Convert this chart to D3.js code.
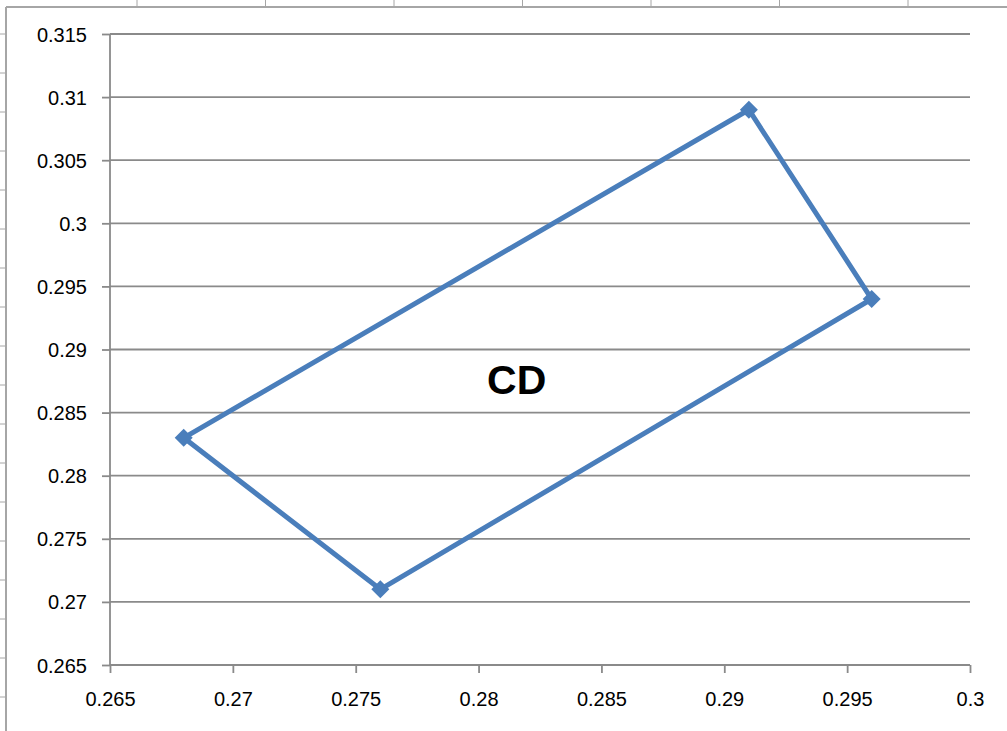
<!DOCTYPE html>
<html>
<head>
<meta charset="utf-8">
<script src="https://cdn.jsdelivr.net/npm/d3@7"></script>
<style>
  body { margin: 0; background: #fff; }
  svg { display: block; }
  .tick text { font-family: "Liberation Sans", Arial, sans-serif; font-size: 20px; fill: #000; }
</style>
</head>
<body>
<div class="chart"></div>
<script>
// data points of the closed shape (x, y)
const xValues = [0.268, 0.291, 0.296, 0.276, 0.268];
const yValues = [0.283, 0.309, 0.294, 0.271, 0.283];

// tick values
const xTicks = [0.265, 0.27, 0.275, 0.28, 0.285, 0.29, 0.295, 0.3];
const yTicks = [0.265, 0.27, 0.275, 0.28, 0.285, 0.29, 0.295, 0.3, 0.305, 0.31, 0.315];

// label inside the shape
const labelText = "CD";
const labelPos = [0.28155, 0.28758];

const W = 1007, H = 731;
const plot = { left: 110, right: 970, top: 34, bottom: 665 };
const blue = "#4a7ebb";
const grid = "#8a8a8a";

const svg = d3.select('.chart')
    .append('svg')
    .attr('width', W)
    .attr('height', H);

svg.append('rect').attr('width', W).attr('height', H).attr('fill', '#fff');

// spreadsheet frame behind the chart
const frame = svg.append('g').attr('stroke', '#a6a6a6');
frame.append('line').attr('x1', 6).attr('x2', W).attr('y1', 7).attr('y2', 7).attr('stroke-width', 2);
frame.append('line').attr('x1', 6).attr('x2', 6).attr('y1', 7).attr('y2', H).attr('stroke-width', 2);
d3.range(137, W, 128.5).forEach(x => {
    frame.append('line').attr('x1', x).attr('x2', x).attr('y1', 0).attr('y2', 7).attr('stroke-width', 1);
});
d3.range(34, H, 39).forEach(y => {
    frame.append('line').attr('x1', 0).attr('x2', 6).attr('y1', y).attr('y2', y).attr('stroke-width', 1);
});

const x = d3.scaleLinear().domain([0.265, 0.3]).range([plot.left, plot.right]);
const y = d3.scaleLinear().domain([0.265, 0.315]).range([plot.bottom, plot.top]);

// horizontal gridlines
svg.append('g')
    .selectAll('line')
    .data(yTicks)
    .join('line')
    .attr('x1', plot.left)
    .attr('x2', plot.right)
    .attr('y1', d => y(d))
    .attr('y2', d => y(d))
    .attr('stroke', grid)
    .attr('stroke-width', 1.8);

// y axis
const yAxis = svg.append('g')
    .attr('transform', `translate(${plot.left},0)`)
    .call(d3.axisLeft(y).tickValues(yTicks).tickSize(8).tickPadding(15).tickFormat(d => String(d)));
yAxis.selectAll('path, line').attr('stroke', grid).attr('stroke-width', 1.8);
yAxis.select('.domain').attr('d', `M0,${plot.top}V${plot.bottom}`);
yAxis.selectAll('text').attr('dy', '0.35em');

// x axis
const xAxis = svg.append('g')
    .attr('transform', `translate(0,${plot.bottom})`)
    .call(d3.axisBottom(x).tickValues(xTicks).tickSize(8).tickPadding(19).tickFormat(d => String(d)));
xAxis.selectAll('path, line').attr('stroke', grid).attr('stroke-width', 1.8);
xAxis.select('.domain').attr('d', `M${plot.left},0H${plot.right}`);

// shape
const pts = xValues.map((v, i) => [v, yValues[i]]);
const line = d3.line().x(d => x(d[0])).y(d => y(d[1]));

svg.append('path')
    .datum(pts)
    .attr('d', line)
    .attr('fill', 'none')
    .attr('stroke', blue)
    .attr('stroke-width', 5)
    .attr('stroke-linejoin', 'round');

// diamond markers
svg.append('g')
    .selectAll('path')
    .data(pts.slice(0, 4))
    .join('path')
    .attr('transform', d => `translate(${x(d[0])},${y(d[1])})`)
    .attr('d', 'M0,-9L9,0L0,9L-9,0Z')
    .attr('fill', blue);

// label
svg.append('text')
    .attr('x', x(labelPos[0]))
    .attr('y', y(labelPos[1]))
    .attr('dy', '0.35em')
    .attr('text-anchor', 'middle')
    .attr('font-family', '"Liberation Sans", Arial, sans-serif')
    .attr('font-weight', 'bold')
    .attr('font-size', 41)
    .attr('fill', '#000')
    .text(labelText);
</script>
</body>
</html>
